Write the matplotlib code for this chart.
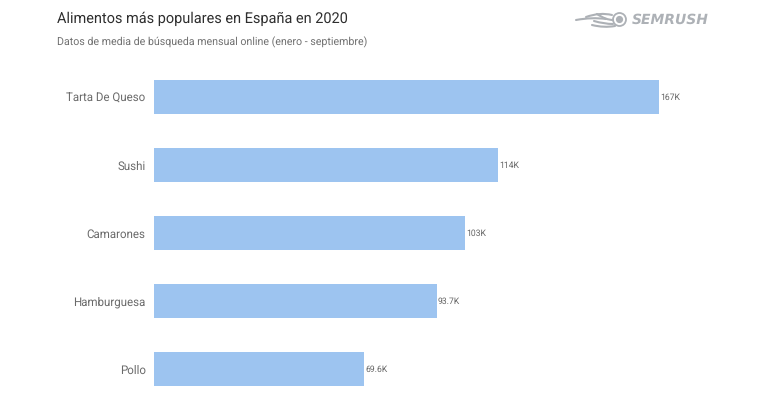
import matplotlib
matplotlib.use("Agg")
import matplotlib.pyplot as plt
from matplotlib.patches import Circle, PathPatch
from matplotlib.path import Path

plt.rcParams['font.family'] = ['Roboto', 'DejaVu Sans']
plt.rcParams['text.hinting'] = 'no_hinting'

foods = ["Tarta De Queso", "Sushi", "Camarones", "Hamburguesa", "Pollo"]
searches = [167400, 114000, 103000, 93700, 69600]
value_labels = ["167K", "114K", "103K", "93.7K", "69.6K"]

LOGO_GREY = "#adb1b6"

fig = plt.figure(figsize=(7.7, 4.0), dpi=100)

# axes area in figure fractions, from pixel positions
ax = fig.add_axes([154 / 770, 0, 505 / 770, 1 - 46 / 400])

y_pos = list(range(len(foods)))
ax.barh(y_pos, searches, height=0.5, color="#9dc4f0", linewidth=0)

for y, val, lab in zip(y_pos, searches, value_labels):
    ax.annotate(lab, (val, y), xytext=(1, -0.5), textcoords="offset points",
                va="center", ha="left", fontsize=6.2, color="#666666")

ax.set_yticks(y_pos)
ax.set_yticklabels(foods, fontsize=8.3, color="#6a6a6a")
ax.tick_params(axis="y", length=0, pad=6)
ax.set_xticks([])
ax.set_xlim(0, 167400)
ax.set_ylim(4.456, -0.75)
for s in ax.spines.values():
    s.set_visible(False)
ax.patch.set_alpha(0)

fig.text(57 / 770, 1 - 18.5 / 400, "Alimentos más populares en España en 2020",
         fontsize=10.45, color="#2e2e2e", va="center", ha="left")
fig.text(57 / 770, 1 - 42 / 400, "Datos de media de búsqueda mensual online (enero - septiembre)",
         fontsize=7.7, color="#707070", va="center", ha="left")

# logo, drawn in pixel coordinates on an overlay axes
logo = fig.add_axes([0, 0, 1, 1], facecolor="none")
logo.set_xlim(0, 770)
logo.set_ylim(400, 0)
logo.axis("off")
logo.add_patch(Circle((619.5, 19.5), 6.5, fill=False, ec=LOGO_GREY, lw=1.3))
logo.add_patch(Circle((619.5, 19.5), 3.6, fc=LOGO_GREY, ec="none"))
strands = [
    ((576, 20), (592, 17), (606, 19)),
    ((586, 17), (600, 12), (612, 15)),
    ((594, 21), (604, 24), (613, 24)),
    ((597, 14), (606, 20), (613, 20)),
    ((592, 25), (604, 28), (615, 26)),
]
for p0, p1, p2 in strands:
    logo.add_patch(PathPatch(Path([p0, p1, p2], [Path.MOVETO, Path.CURVE3, Path.CURVE3]),
                             fill=False, ec=LOGO_GREY, lw=1.5, capstyle="round"))
fig.text(709 / 770, 1 - 19.5 / 400, "SEMRUSH", fontsize=10, fontweight="bold", color=LOGO_GREY,
         va="center", ha="right", fontstyle="italic", family="DejaVu Sans")

fig.savefig("out.png", dpi=100)
